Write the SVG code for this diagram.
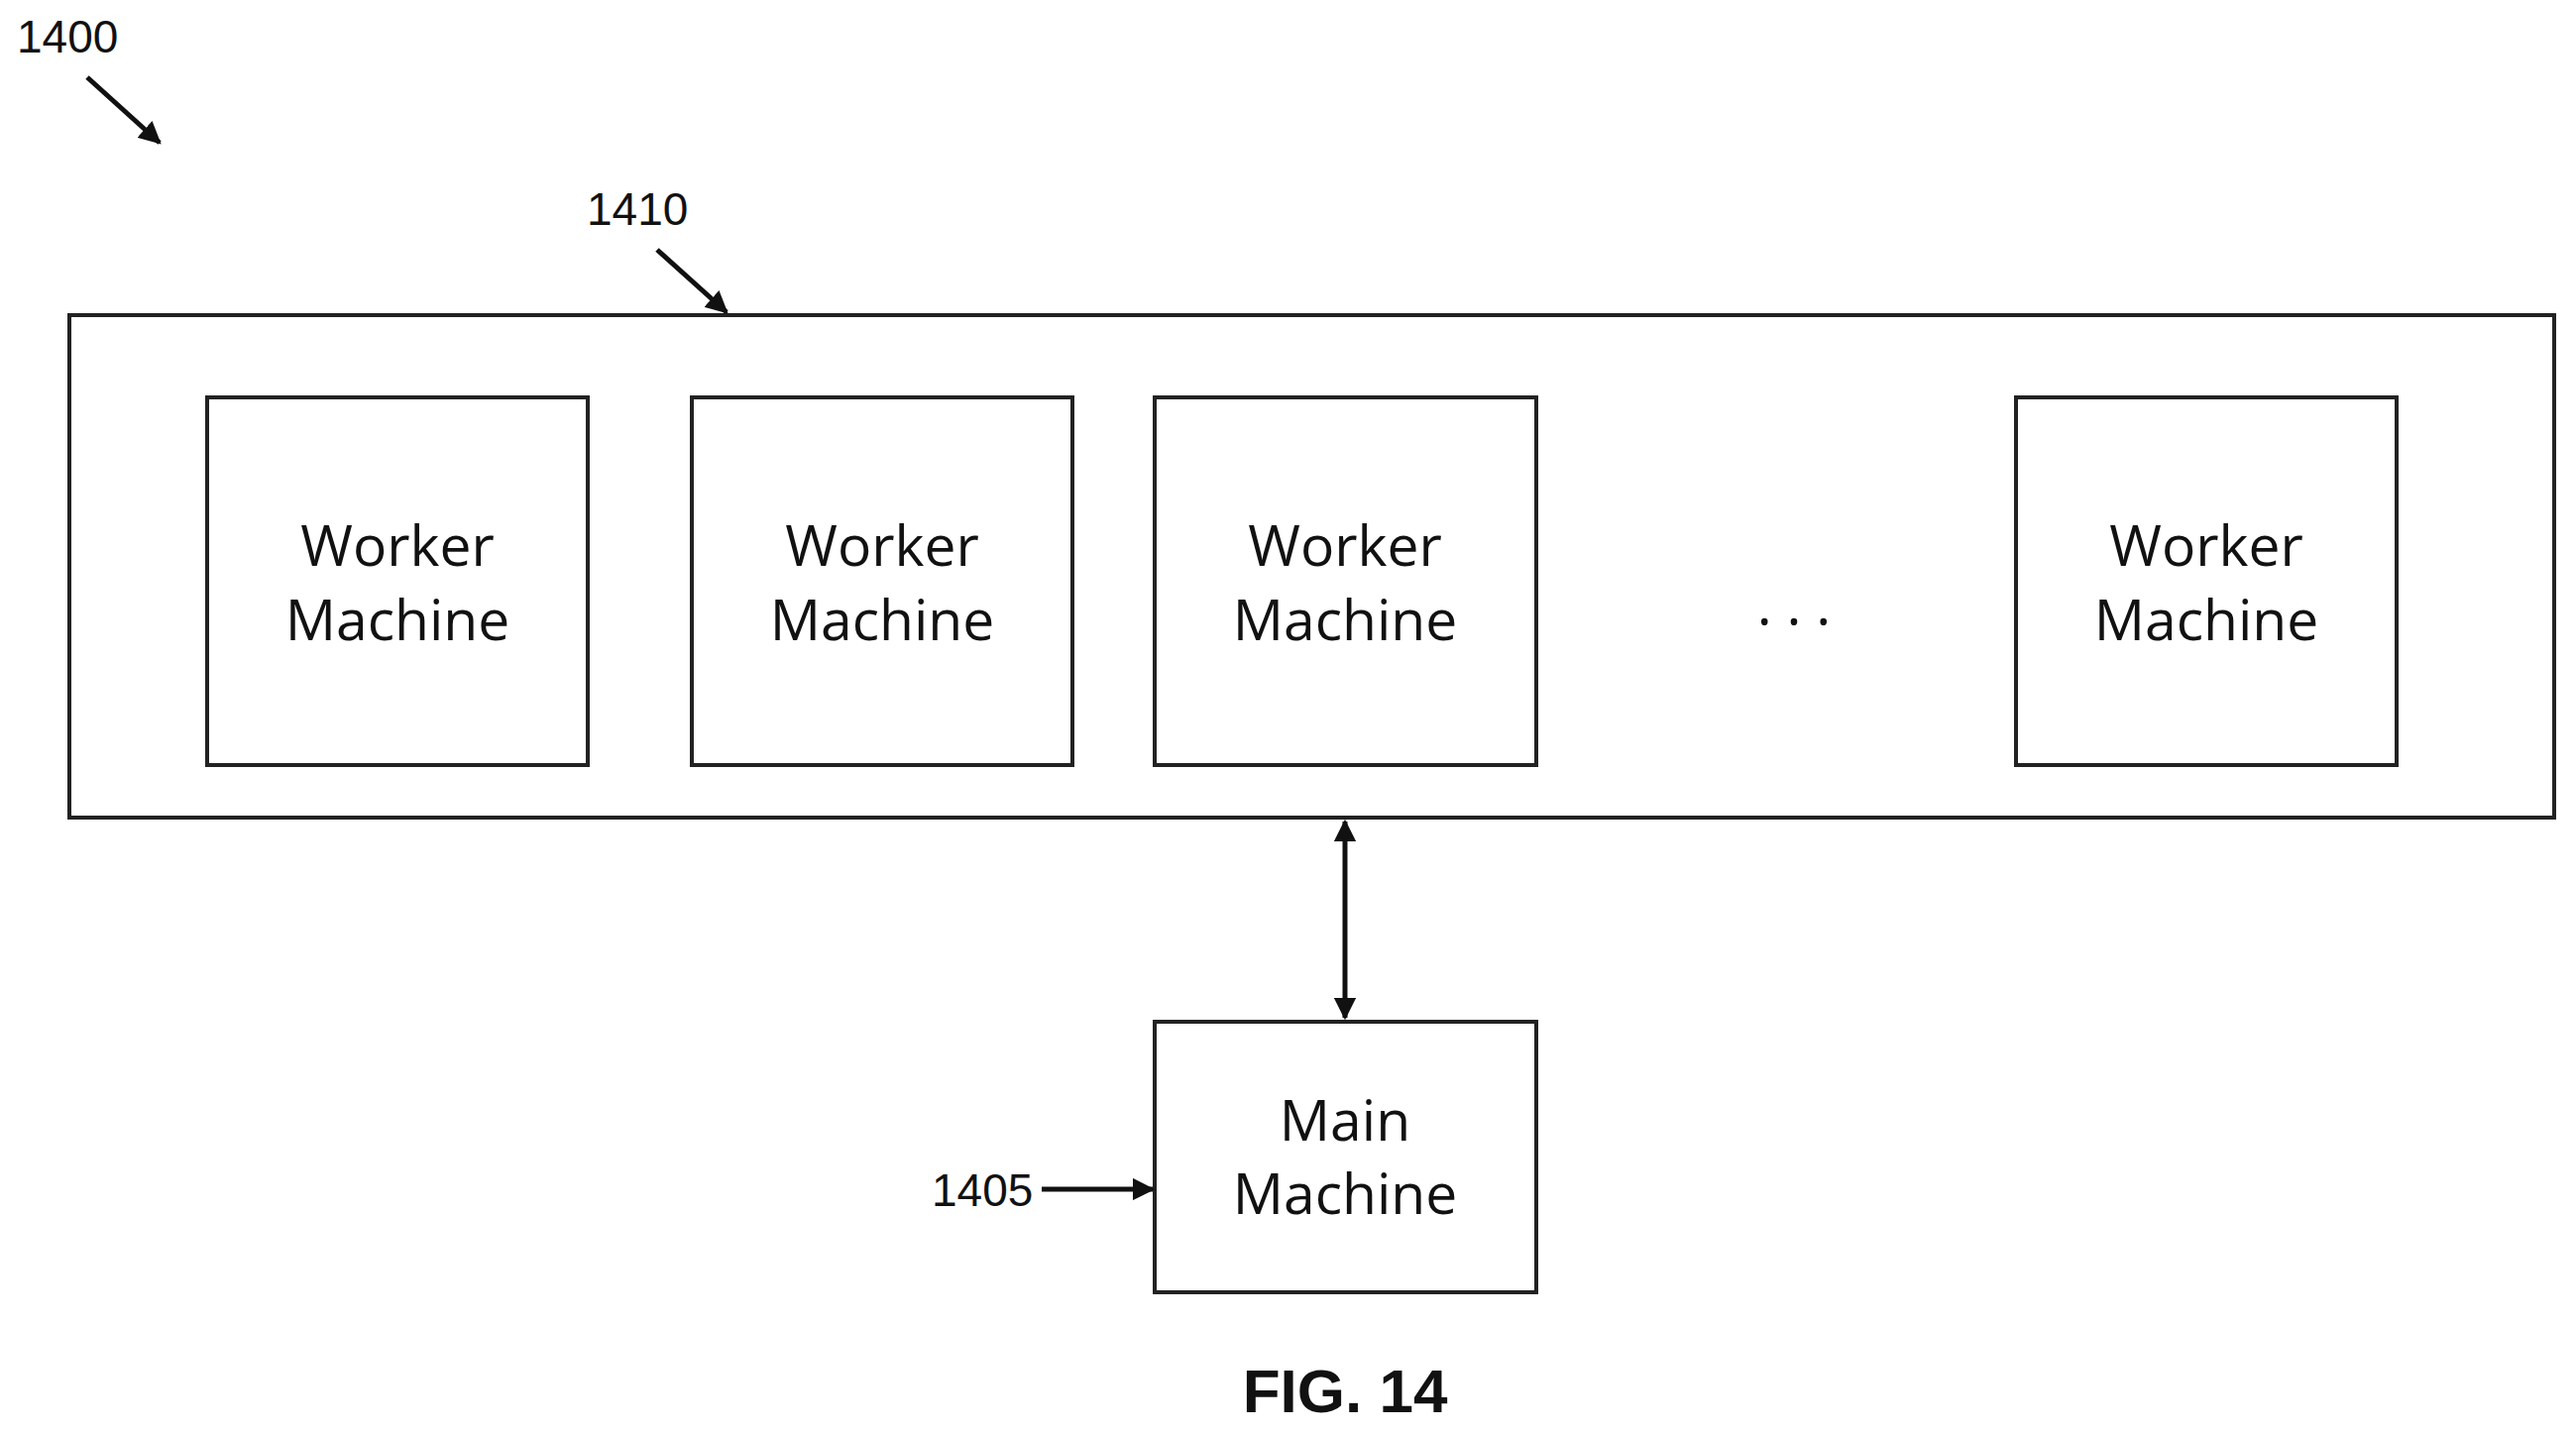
<svg xmlns="http://www.w3.org/2000/svg" width="2599" height="1446" viewBox="0 0 2599 1446">
<style>
.box{fill:#fff;stroke:#222;stroke-width:4}
.lbl{font-family:"Open Sans","Liberation Sans",sans-serif;font-size:57px;fill:#111;text-anchor:middle}
.ref{font-family:"Liberation Sans",sans-serif;font-size:46px;fill:#111}
.ln{stroke:#111;stroke-width:5;fill:none}
</style>
<defs>
<marker id="ah" viewBox="0 0 10 10" refX="9" refY="5" markerWidth="4.5" markerHeight="4.5" orient="auto-start-reverse" markerUnits="strokeWidth">
<path d="M0,0 L10,5 L0,10 z" fill="#111"/>
</marker>
</defs>
<rect width="2599" height="1446" fill="#fff"/>
<g id="group1410"><rect class="box" x="70" y="318" width="2507" height="507"/></g>
<g id="w1"><rect class="box" x="209" y="401" width="384" height="371"/><text class="lbl" x="401" y="571">Worker</text><text class="lbl" x="401" y="646">Machine</text></g>
<g id="w2"><rect class="box" x="698" y="401" width="384" height="371"/><text class="lbl" x="890" y="571">Worker</text><text class="lbl" x="890" y="646">Machine</text></g>
<g id="w3"><rect class="box" x="1165" y="401" width="385" height="371"/><text class="lbl" x="1357" y="571">Worker</text><text class="lbl" x="1357" y="646">Machine</text></g>
<g id="dots"><text class="lbl" x="1810" y="647">· · ·</text></g>
<g id="w4"><rect class="box" x="2034" y="401" width="384" height="371"/><text class="lbl" x="2226" y="571">Worker</text><text class="lbl" x="2226" y="646">Machine</text></g>
<g id="main"><rect class="box" x="1165" y="1031" width="385" height="273"/><text class="lbl" x="1357" y="1151">Main</text><text class="lbl" x="1357" y="1225">Machine</text></g>
<g id="connectors">
<line class="ln" x1="1357" y1="829" x2="1357" y2="1027" marker-start="url(#ah)" marker-end="url(#ah)"/>
<line class="ln" x1="88" y1="78" x2="161" y2="144" marker-end="url(#ah)"/>
<line class="ln" x1="663" y1="252" x2="733" y2="315" marker-end="url(#ah)"/>
<line class="ln" x1="1051" y1="1200" x2="1163" y2="1200" marker-end="url(#ah)"/>
</g>
<g id="labels">
<text class="ref" x="17" y="53">1400</text>
<text class="ref" x="592" y="227">1410</text>
<text class="ref" x="940" y="1217">1405</text>
<text x="1357" y="1425" font-family="Liberation Sans,sans-serif" font-weight="bold" font-size="62" text-anchor="middle" fill="#111">FIG. 14</text>
</g>
</svg>
